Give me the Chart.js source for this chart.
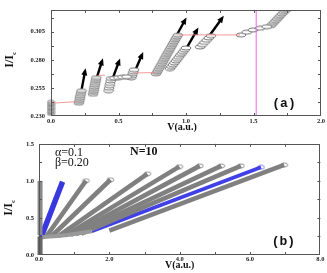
<!DOCTYPE html>
<html><head><meta charset="utf-8">
<script src="https://cdn.jsdelivr.net/npm/chart.js@4/dist/chart.umd.min.js"></script>
<style>
html,body{margin:0;padding:0;background:#fff;width:327px;height:273px;overflow:hidden}
#wa{position:absolute;left:0;top:0;width:327px;height:135px}
#wb{position:absolute;left:0;top:135px;width:327px;height:138px}
</style></head><body>
<div id="wa"><canvas id="ca"></canvas></div>
<div id="wb"><canvas id="cb"></canvas></div>
<script>
// ---------- Panel (a) data ----------
const aXTicks = [0.0, 0.5, 1.0, 1.5, 2.0];
const aXMinor = [0.25, 0.75, 1.25, 1.75];
const aYTicks = [0.230, 0.255, 0.280, 0.305];
const aYMinor = [0.2425, 0.2675, 0.2925, 0.3175];
const aS0V = [0,0,0,0,0,0,0,0,0,0];
const aS0I = [0.2318,0.2330,0.2342,0.2354,0.2366,0.2378,0.2390,0.2402,0.2414,0.2426];
const aS1V = [0.206,0.209,0.212,0.214,0.217,0.220,0.223,0.226];
const aS1I = [0.2414,0.2430,0.2446,0.2462,0.2478,0.2494,0.2510,0.2526];
const aS2V = [0.311,0.314,0.317,0.319,0.322,0.325,0.328,0.330,0.333,0.336];
const aS2I = [0.2493,0.2510,0.2526,0.2543,0.2559,0.2576,0.2592,0.2609,0.2625,0.2642];
const aO3V = [0.426,0.430,0.434,0.438,0.442,0.446,0.47,0.50,0.53,0.56];
const aO3I = [0.2526,0.2548,0.2570,0.2590,0.2612,0.2634,0.2637,0.2642,0.2646,0.2650];
const aO4V = [0.595,0.600,0.605,0.610,0.615];
const aO4I = [0.2640,0.2658,0.2676,0.2694,0.2712];
const aG5V = [0.778,0.785,0.792,0.799,0.806,0.813,0.820,0.827,0.834,0.841,0.848,0.855,0.862,0.869,0.876,0.883,0.890,0.897,0.904,0.911,0.918,0.925,0.932,0.940];
const aG5I = [0.2675,0.2690,0.2705,0.2720,0.2735,0.2750,0.2765,0.2780,0.2795,0.2810,0.2825,0.2840,0.2855,0.2870,0.2885,0.2900,0.2915,0.2930,0.2945,0.2960,0.2975,0.2990,0.3005,0.3020];
const aO6V = [0.881,0.892,0.903,0.914,0.925,0.936,0.946,0.957,0.968,0.979,0.990,1.000];
const aO6I = [0.2723,0.2740,0.2756,0.2773,0.2790,0.2806,0.2823,0.2840,0.2856,0.2873,0.2890,0.2906];
const aO7V = [1.105,1.121,1.137,1.153,1.169,1.185];
const aO7I = [0.2915,0.2935,0.2955,0.2975,0.2995,0.3015];
const aO8V = [1.407,1.45,1.497,1.548,1.598];
const aO8I = [0.3022,0.3047,0.3066,0.3082,0.3096];
const aG9V = [1.627,1.639,1.651,1.663,1.675,1.687,1.699,1.711,1.723,1.735,1.747];
const aG9I = [0.3103,0.3118,0.3133,0.3148,0.3163,0.3178,0.3193,0.3208,0.3223,0.3238,0.3250];
const aRedV = [0.01,0.19,null,0.345,0.40,null,0.62,0.77,null,0.95,1.40];
const aRedI = [0.2414,0.2428,null,0.2662,0.2664,null,0.2683,0.2687,null,0.3022,0.3022];
const aArrowV0 = [0.227,0.339,0.459,0.630,0.933,1.007,1.178];
const aArrowI0 = [0.2536,0.2642,0.2642,0.2723,0.3024,0.2911,0.3024];
const aArrowV1 = [0.252,0.378,0.504,0.674,0.993,1.081,1.267];
const aArrowI1 = [0.2699,0.2788,0.2788,0.2845,0.3155,0.3065,0.3171];
const aMarkV = 1.52;

// ---------- Panel (b) data ----------
const bXTicks = [0.0, 2.0, 4.0, 6.0, 8.0];
const bXMinor = [1.0, 3.0, 5.0, 7.0];
const bYTicks = [0.0, 0.5, 1.0, 1.5];
const bYMinor = [0.25, 0.75, 1.25];
const bColV = [0.03, 0.03];
const bColLightI = [0.27, 1.0];
const bColDarkI = [0.0, 0.25];
const bBaseV = [0.08,0.3,0.55,0.8,1.1,1.5];
const bBaseI = [0.24,0.25,0.258,0.27,0.29,0.32];
const bLineStartV = [0.20,0.35,0.55,0.75,0.90,1.05,1.20,2.0];
const bLineStartI = [0.245,0.25,0.255,0.265,0.27,0.28,0.29,0.33];
const bLineEndV = [1.335,2.03,3.08,3.99,4.57,5.18,5.74,6.97];
const bLineEndI = [1.003,1.016,1.096,1.193,1.203,1.203,1.203,1.216];
const bBlue1V = [0.06,0.67];
const bBlue1I = [0.24,0.99];
const bBlue2V = [1.5,6.31];
const bBlue2I = [0.32,1.184];

// ---------- helpers ----------
function ell(w,h,fill,stroke,lw){
  const c=document.createElement('canvas');c.width=w+2;c.height=h+2;
  const g=c.getContext('2d');g.beginPath();
  g.ellipse((w+2)/2,(h+2)/2,w/2,h/2,0,0,Math.PI*2);
  g.fillStyle=fill;g.fill();g.lineWidth=lw;g.strokeStyle=stroke;g.stroke();return c;
}
function pts(vs,is){return vs.map((v,i)=>({x:v===null?NaN:v,y:is[i]===null?NaN:is[i]}));}
const eGray = ell(10,4,'#dcdcdc','#666',0.7);
const eGrayS = ell(7,3,'#dcdcdc','#555',0.7);
const eWhite = ell(10,4,'#ffffff','#555',0.8);
const eEnd = ell(7,4,'#ffffff','#777',0.8);
function stack(vs,is,img,extra){
  return Object.assign({data:pts(vs,is),showLine:false,pointStyle:img,pointRadius:3,pointHoverRadius:3},extra||{});
}
function isOnTick(v,list){return list.some(t=>Math.abs(t-v)<1e-6);}

const extras = {
  '(b)': function(ctx,a){
    ctx.textAlign='left';ctx.font='12px "Liberation Serif"';
    ctx.fillText('\u03B1=0.1',a.left+16,a.top+8.5);
    ctx.fillText('\u03B2=0.20',a.left+16,a.top+18.5);
    ctx.font='bold 12px "Liberation Serif"';
    ctx.fillText('N=10',a.left+91,a.top+8.5);
  }
};

const framePlugin = {
  id:'frame',
  afterDraw(chart){
    const ctx=chart.ctx, a=chart.chartArea, sx=chart.scales.x, sy=chart.scales.y;
    ctx.save();
    ctx.strokeStyle='#555';ctx.lineWidth=1;
    ctx.strokeRect(Math.round(a.left)+0.5,Math.round(a.top)+0.5,Math.round(a.right-a.left)-1,Math.round(a.bottom-a.top)-1);
    ctx.beginPath();
    sx.ticks.forEach(t=>{const x=Math.round(sx.getPixelForValue(t.value))+0.5;
      if(x<a.left+1||x>a.right-1)return;
      ctx.moveTo(x,a.bottom);ctx.lineTo(x,a.bottom-3);ctx.moveTo(x,a.top);ctx.lineTo(x,a.top+3);});
    sy.ticks.forEach(t=>{const y=Math.round(sy.getPixelForValue(t.value))+0.5;
      if(y<a.top+1||y>a.bottom-1)return;
      ctx.moveTo(a.left,y);ctx.lineTo(a.left+3,y);ctx.moveTo(a.right,y);ctx.lineTo(a.right-3,y);});
    ctx.stroke();
    const o=chart.options.plugins.frame||{};
    ctx.fillStyle='#111';ctx.textAlign='center';ctx.textBaseline='middle';
    ctx.font='bold 10px "Liberation Serif"';
    ctx.fillText('V(a.u.)',(a.left+a.right)/2+o.xtOff,o.xtY);
    ctx.save();ctx.translate(o.ytX,o.ytY);ctx.rotate(-Math.PI/2);
    ctx.font='bold 12px "Liberation Serif"';ctx.textAlign='right';
    ctx.fillText('I/I',2,0);
    ctx.font='bold 7px "Liberation Serif"';ctx.textAlign='left';
    ctx.fillText('c',2,4);
    ctx.restore();
    ctx.font='bold 13px "Liberation Mono"';ctx.textAlign='center';
    ctx.fillText(o.label,a.right-37,a.bottom-o.labUp);
    if(extras[o.label]){extras[o.label](ctx,a);}
    ctx.restore();
  }
};
const arrowPlugin = {
  id:'arrowheads',
  afterDatasetsDraw(chart){
    const ctx=chart.ctx;
    chart.data.datasets.forEach((ds,i)=>{
      if(!ds.arrow)return;
      const m=chart.getDatasetMeta(i);const p0=m.data[0],p1=m.data[1];
      const ang=Math.atan2(p1.y-p0.y,p1.x-p0.x);
      ctx.save();ctx.translate(p1.x,p1.y);ctx.rotate(ang);
      ctx.beginPath();ctx.moveTo(3,0);ctx.lineTo(-4,-3);ctx.lineTo(-4,3);ctx.closePath();
      ctx.fillStyle='#000';ctx.fill();ctx.restore();
    });
  }
};

function axes(cfg){
  const tf={size:6.5,weight:'bold',family:'"Liberation Serif"'};
  const xAll=cfg.xl.concat(cfg.xm).sort((p,q)=>p-q);
  const yAll=cfg.yl.concat(cfg.ym).sort((p,q)=>p-q);
  return {
    x:{type:'linear',min:cfg.xmin,max:cfg.xmax,
       afterBuildTicks(s){s.ticks=xAll.map(v=>({value:v}));},
       ticks:{padding:cfg.xpad,font:tf,color:'#222',maxRotation:0,autoSkip:false,
              callback:v=>isOnTick(v,cfg.xl)?v.toFixed(1):''},
       grid:{display:false,drawTicks:false},border:{display:false},
       afterFit(s){s.height=cfg.xh;}},
    y:{type:'linear',min:cfg.ymin,max:cfg.ymax,
       afterBuildTicks(s){s.ticks=yAll.map(v=>({value:v}));},
       ticks:{padding:cfg.ypad,font:tf,color:'#222',autoSkip:false,
              callback:v=>isOnTick(v,cfg.yl)?v.toFixed(cfg.yd):''},
       grid:{display:false,drawTicks:false},border:{display:false},
       afterFit(s){s.width=cfg.yw;}}
  };
}

// ---------- Chart (a) ----------
const dsA = [];
dsA.push({data:pts(aRedV,aRedI),showLine:true,borderColor:'#f08080',borderWidth:0.8,pointRadius:0,spanGaps:false});
dsA.push({data:[{x:aMarkV,y:0.23},{x:aMarkV,y:0.3245}],showLine:true,borderColor:'#ee66ee',borderWidth:1,pointRadius:0});
dsA.push(stack(aS0V,aS0I,eGrayS,{clip:false}));
dsA.push(stack(aS1V,aS1I,eGray));
dsA.push(stack(aS2V,aS2I,eGray));
dsA.push(stack(aO3V,aO3I,eWhite));
dsA.push(stack(aO4V,aO4I,eWhite));
dsA.push(stack(aG5V,aG5I,eGray));
dsA.push(stack(aO6V,aO6I,eWhite));
dsA.push(stack(aO7V,aO7I,eWhite));
dsA.push(stack(aO8V,aO8I,eWhite));
dsA.push(stack(aG9V,aG9I,eGray));
aArrowV0.forEach((v,i)=>{
  dsA.push({data:[{x:v,y:aArrowI0[i]},{x:aArrowV1[i],y:aArrowI1[i]}],showLine:true,arrow:true,
            borderColor:'#000',borderWidth:2.4,pointRadius:0});
});
new Chart(document.getElementById('ca'),{
  type:'scatter',
  data:{datasets:dsA},
  options:{responsive:true,maintainAspectRatio:false,animation:false,devicePixelRatio:1,
    layout:{padding:{left:0,right:6,top:1,bottom:0}},
    plugins:{legend:{display:false},tooltip:{enabled:false},
      frame:{label:'(a)',labUp:12,xtY:127,xtOff:-4,ytX:10,ytY:57}},
    scales:axes({xmin:0,xmax:2,xl:aXTicks,xm:aXMinor,xpad:1,xh:19,
                 ymin:0.23,ymax:0.3245,yl:aYTicks,ym:aYMinor,yd:3,ypad:6,yw:51})},
  plugins:[framePlugin,arrowPlugin]
});

// ---------- Chart (b) ----------
const dsB = [];
function tube(vs,is,outer,inner,wo,wi,endImg){
  dsB.push({data:pts(vs,is),showLine:true,borderColor:outer,borderWidth:wo,pointRadius:0,clip:false});
  dsB.push({data:pts(vs,is),showLine:true,borderColor:inner,borderWidth:wi,
            pointRadius:[0,endImg?3:0],pointStyle:endImg||'circle',clip:false});
}
tube(bColV,bColDarkI,'#666','#8a8a8a',5,3,null);
tube(bColV,bColLightI,'#888','#d8d8d8',5,2.6,null);
dsB.push({data:pts(bBaseV,bBaseI),showLine:true,borderColor:'#999',borderWidth:4,pointRadius:0});
dsB.push({data:pts(bBaseV,bBaseI),showLine:true,borderColor:'#eee',borderWidth:2,pointRadius:0});
bLineStartV.forEach((v,i)=>{
  const inner = (i===3||i===5)?'#a8a8a8':'#e6e6e6';
  tube([v,bLineEndV[i]],[bLineStartI[i],bLineEndI[i]],'#808080',inner,4.6,2.6,eEnd);
});
tube(bBlue2V,bBlue2I,'#4040e6','#9a9af4',3.6,1.4,ell(7,4,'#ffffff','#6a6af0',0.8));
tube(bBlue1V,bBlue1I,'#3838e0','#7070ee',5.5,1.8,null);
new Chart(document.getElementById('cb'),{
  type:'scatter',
  data:{datasets:dsB},
  options:{responsive:true,maintainAspectRatio:false,animation:false,devicePixelRatio:1,
    layout:{padding:{left:0,right:5.5,top:7,bottom:0}},
    plugins:{legend:{display:false},tooltip:{enabled:false},
      frame:{label:'(b)',labUp:13,xtY:130,xtOff:0,ytX:9,ytY:70}},
    scales:axes({xmin:0,xmax:8,xl:bXTicks,xm:bXMinor,xpad:0,xh:18,
                 ymin:0,ymax:1.5,yl:bYTicks,ym:bYMinor,yd:1,ypad:5,yw:39})},
  plugins:[framePlugin,arrowPlugin]
});
</script>
</body></html>
